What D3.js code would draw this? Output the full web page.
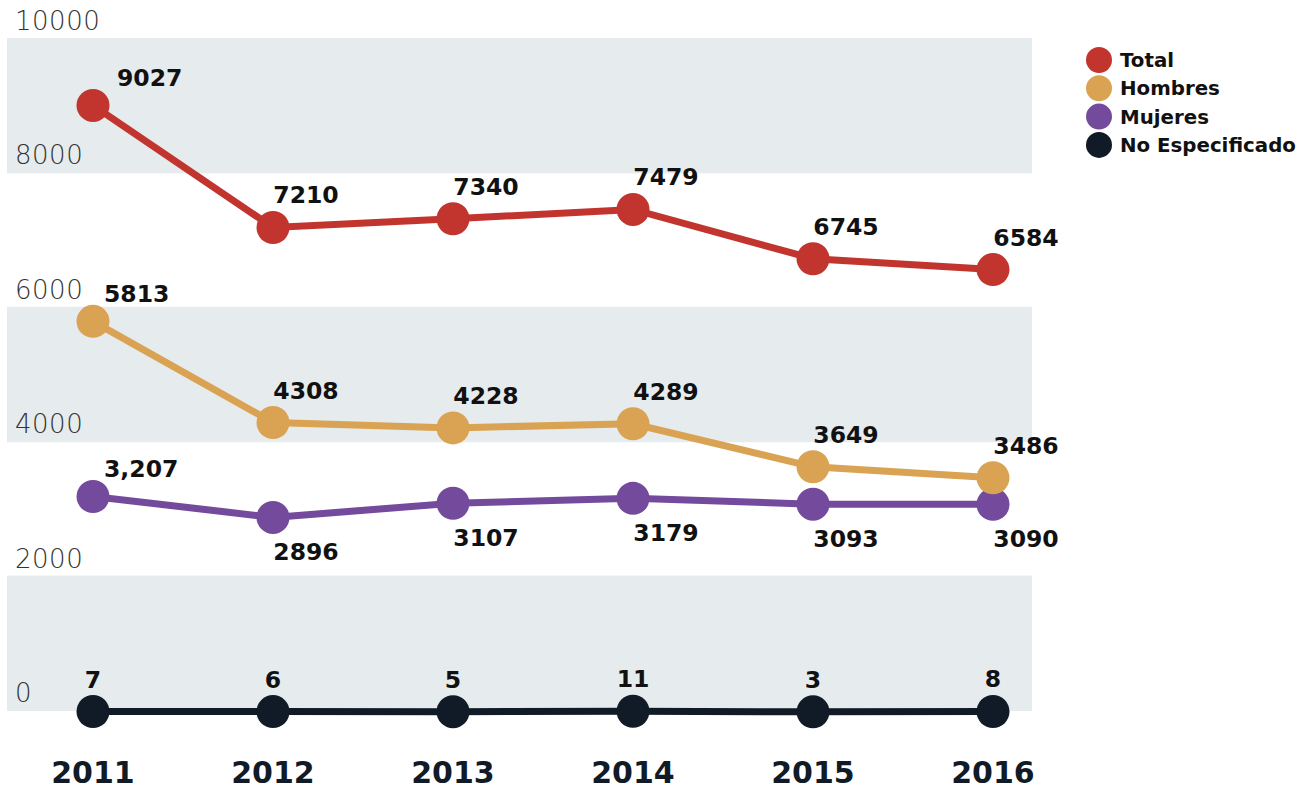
<!DOCTYPE html>
<html><head><meta charset="utf-8">
<script src="https://cdn.jsdelivr.net/npm/d3@7/dist/d3.min.js"></script>
<style>
body{margin:0;background:#fff;}
svg{display:block;}
</style></head>
<body>
<svg id="chart" width="1307" height="789"></svg>
<script>
const years = [2011, 2012, 2013, 2014, 2015, 2016];
const total = [9027, 7210, 7340, 7479, 6745, 6584];
const hombres = [5813, 4308, 4228, 4289, 3649, 3486];
const mujeres = [3207, 2896, 3107, 3179, 3093, 3090];
const noEspecificado = [7, 6, 5, 11, 3, 8];
const yTicks = [0, 2000, 4000, 6000, 8000, 10000];
const seriesNames = ["Total", "Hombres", "Mujeres", "No Especificado"];
const seriesColors = ["#c2352f", "#d9a353", "#744a9c", "#111a27"];
const mujeresLabels = ["3,207", "2896", "3107", "3179", "3093", "3090"];

const svg = d3.select("#chart");
const x = d3.scalePoint().domain(years).range([93, 993]);
const y = d3.scaleLinear().domain([0, 10000]).range([712, 40]);

// bands
const bandPairs = [[8000, 10000], [4000, 6000], [0, 2000]];
svg.append("g").selectAll("rect").data(bandPairs).join("rect")
  .attr("x", 7).attr("width", 1032 - 7)
  .attr("y", d => y(d[1]) - 2).attr("height", d => y(d[0]) - y(d[1]) + 1)
  .attr("fill", "#e6ebed");

// y tick labels
svg.append("g").selectAll("text").data(yTicks).join("text")
  .attr("x", 15).attr("y", d => y(d) - 10)
  .attr("font-family", "DejaVu Sans").attr("font-weight", 200)
  .attr("font-size", 26).attr("fill", "#333")
  .attr("letter-spacing", 0.5)
  .text(d => d);

const data = [
  {name: seriesNames[0], color: seriesColors[0], values: total, labels: total.map(String), pos: "above"},
  {name: seriesNames[1], color: seriesColors[1], values: hombres, labels: hombres.map(String), pos: "above"},
  {name: seriesNames[2], color: seriesColors[2], values: mujeres, labels: mujeresLabels, pos: "below"},
  {name: seriesNames[3], color: seriesColors[3], values: noEspecificado, labels: noEspecificado.map(String), pos: "center"}
];

const line = d3.line().x((d, i) => x(years[i])).y(d => y(d));

data.slice().reverse().forEach(s => {
  const g = svg.append("g");
  g.append("path").datum(s.values).attr("d", line)
    .attr("fill", "none").attr("stroke", s.color).attr("stroke-width", 7);
  g.selectAll("circle").data(s.values).join("circle")
    .attr("cx", (d, i) => x(years[i])).attr("cy", d => y(d)).attr("r", 16.5)
    .attr("fill", s.color);
});

data.forEach(s => {
  svg.append("g").selectAll("text").data(s.values).join("text")
    .attr("font-family", "DejaVu Sans").attr("font-weight", "bold")
    .attr("font-size", 23.5).attr("fill", "#111")
    .attr("text-anchor", (d, i) => (i === 0 && s.pos !== "center") ? "start" : "middle")
    .attr("x", (d, i) => {
      const px = x(years[i]);
      if (s.pos === "center") return px;
      if (i === 0) return px + (s.name === "Total" ? 24 : 11);
      return px + 33;
    })
    .attr("y", (d, i) => {
      const py = y(d);
      if (s.pos === "center") return py - 24;
      if (s.pos === "below" && i > 0) return py + 43;
      if (i === 0) return py - 19;
      return py - 24;
    })
    .text((d, i) => s.labels[i]);
});

// x axis labels
svg.append("g").selectAll("text").data(years).join("text")
  .attr("x", d => x(d)).attr("y", 783)
  .attr("text-anchor", "middle")
  .attr("font-family", "DejaVu Sans").attr("font-weight", "bold")
  .attr("font-size", 30).attr("fill", "#111a27")
  .text(d => d);

// legend
const lg = svg.append("g").selectAll("g").data(data).join("g")
  .attr("transform", (d, i) => `translate(1099,${60 + i * 28.3})`);
lg.append("circle").attr("r", 13).attr("fill", d => d.color);
lg.append("text").attr("x", 21).attr("y", 7)
  .attr("font-family", "DejaVu Sans").attr("font-weight", "bold")
  .attr("font-size", 19.8).attr("fill", "#111")
  .text(d => d.name);
</script>
</body></html>
